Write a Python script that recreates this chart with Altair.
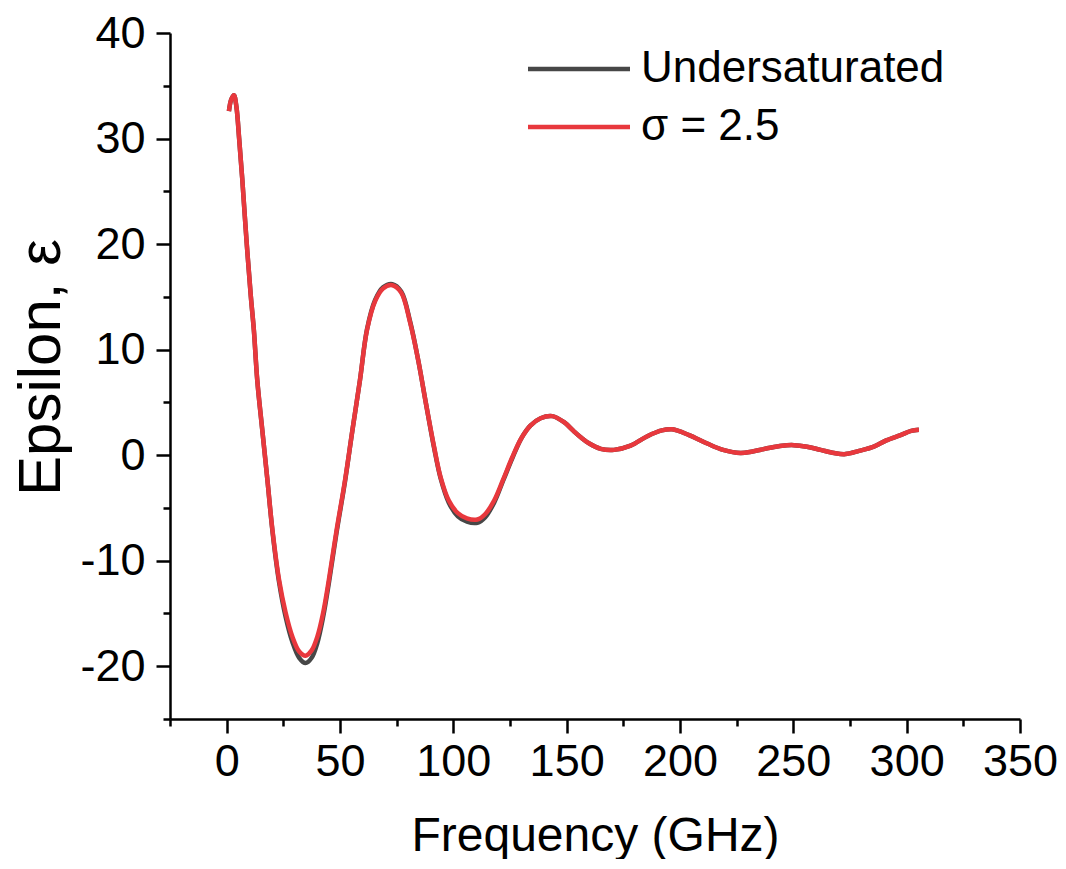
import altair as alt
import pandas as pd

# Frequency (GHz) and epsilon values
freq = [1.0, 2.0, 3.2, 4.3, 5.5, 6.9, 8.7, 10.6, 12.0, 13.5, 15.7, 18.0, 20.2, 23.1, 26.0,
        29.0, 32.0, 34.8, 37.5, 40.0, 42.5, 45.1, 48.5, 52.2, 55.5, 58.8, 61.9, 65.5, 69.0,
        73.1, 77.0, 81.0, 84.5, 88.0, 91.5, 94.4, 98.0, 102.0, 106.0, 110.6, 114.0, 118.0,
        122.0, 126.0, 130.0, 134.0, 138.5, 143.7, 149.0, 153.0, 156.2, 160.0, 165.0, 170.9,
        178.2, 185.6, 192.0, 196.6, 204.0, 212.0, 219.0, 226.7, 232.0, 238.5, 245.0, 250.3,
        256.0, 262.0, 268.0, 273.0, 279.0, 285.5, 291.0, 297.3, 302.0, 305.4]

eps_sigma = [32.6, 33.7, 34.1, 33.0, 30.0, 26.1, 20.5, 15.2, 11.85, 7.1, 2.4, -2.4, -7.1, -11.8, -14.9,
             -17.2, -18.6, -19.0, -18.5, -17.2, -15.0, -11.8, -7.1, -2.4, 2.4, 7.1, 11.85, 14.6, 15.8,
             16.1, 15.4, 12.5, 9.0, 4.8, 0.8, -2.1, -4.3, -5.5, -6.0, -6.1, -5.6, -4.3,
             -2.3, -0.2, 1.6, 2.8, 3.5, 3.7, 3.1, 2.3, 1.7, 1.1, 0.6, 0.5,
             0.9, 1.8, 2.35, 2.45, 1.9, 1.1, 0.5, 0.2, 0.35, 0.65, 0.9, 0.95,
             0.8, 0.5, 0.2, 0.1, 0.4, 0.8, 1.4, 1.9, 2.3, 2.4]

eps_under = [32.6, 33.7, 34.1, 33.0, 30.0, 26.1, 20.5, 15.2, 11.85, 7.1, 2.4, -2.4, -7.2, -12.0, -15.3,
             -17.7, -19.2, -19.7, -19.2, -17.8, -15.4, -12.1, -7.3, -2.5, 2.4, 7.1, 11.9, 14.7, 15.9,
             16.2, 15.5, 12.6, 9.0, 4.8, 0.7, -2.2, -4.5, -5.8, -6.3, -6.4, -5.9, -4.5,
             -2.4, -0.3, 1.6, 2.8, 3.5, 3.7, 3.1, 2.3, 1.7, 1.1, 0.6, 0.5,
             0.9, 1.8, 2.35, 2.45, 1.9, 1.1, 0.5, 0.2, 0.35, 0.65, 0.9, 0.95,
             0.8, 0.5, 0.2, 0.1, 0.4, 0.8, 1.4, 1.9, 2.3, 2.4]

series_names = ["Undersaturated", "σ = 2.5"]
series_colors = ["#474747", "#E8383D"]

y_ticks = list(range(-25, 41, 5))
x_ticks = list(range(-25, 351, 25))

df_under = pd.DataFrame({"freq": freq, "eps": eps_under, "series": series_names[0]})
df_sigma = pd.DataFrame({"freq": freq, "eps": eps_sigma, "series": series_names[1]})

FONT = "Liberation Sans"

x_enc = alt.X(
    "freq:Q",
    scale=alt.Scale(domain=[-25, 350], nice=False, zero=False),
    axis=alt.Axis(
        title="Frequency (GHz)",
        values=x_ticks,
        labelExpr="datum.value % 50 === 0 ? '' + datum.value : ''",
        labelOverlap=False, labelFlush=False,
        tickSize={"condition": {"test": "datum.value % 50 === 0", "value": 14}, "value": 7},
        labelPadding=6,
        titleX=425, titleY=131, titleBaseline="alphabetic", titleAnchor="middle",
    ),
)
y_enc = alt.Y(
    "eps:Q",
    scale=alt.Scale(domain=[-25, 40], nice=False, zero=False),
    axis=alt.Axis(
        title="Epsilon, ε",
        values=y_ticks,
        labelExpr="datum.value % 10 === 0 ? '' + datum.value : ''",
        labelOverlap=False, labelFlush=False,
        tickSize={"condition": {"test": "datum.value % 10 === 0", "value": 14}, "value": 7},
        labelPadding=11,
        titleX=-111, titleY=334, titleBaseline="alphabetic", titleAngle=-90,
        titleFontSize=60,
    ),
)
color_enc = alt.Color(
    "series:N",
    scale=alt.Scale(domain=series_names, range=series_colors),
    legend=alt.Legend(
        title=None, orient="none", legendX=381, legendY=8,
        symbolType="M-2,0H2", symbolSize=2601, symbolStrokeWidth=4.5,
        labelFontSize=44, labelFont=FONT, labelOffset=34, rowPadding=8,
        labelLimit=0, padding=0, labelColor="black",
    ),
)

line_under = alt.Chart(df_under).mark_line(strokeWidth=4.5, interpolate="catmull-rom").encode(
    x=x_enc, y=y_enc, color=color_enc
)
line_sigma = alt.Chart(df_sigma).mark_line(strokeWidth=4.5, interpolate="catmull-rom").encode(
    x=x_enc, y=y_enc, color=color_enc
)

chart = alt.layer(line_under, line_sigma).properties(
    width=850, height=686,
    autosize=alt.AutoSizeParams(type="none"),
    padding={"left": 162, "top": 25, "right": 38, "bottom": 140},
).configure_view(stroke=None).configure_axis(
    domainColor="black", domainWidth=2.5, tickColor="black", tickWidth=2.5,
    labelFont=FONT, labelFontSize=45, labelColor="black",
    titleFont=FONT, titleFontSize=48, titleColor="black", titleFontWeight="normal",
    grid=False,
)

chart.save("out.html", embed_options={"renderer": "svg", "actions": False})
